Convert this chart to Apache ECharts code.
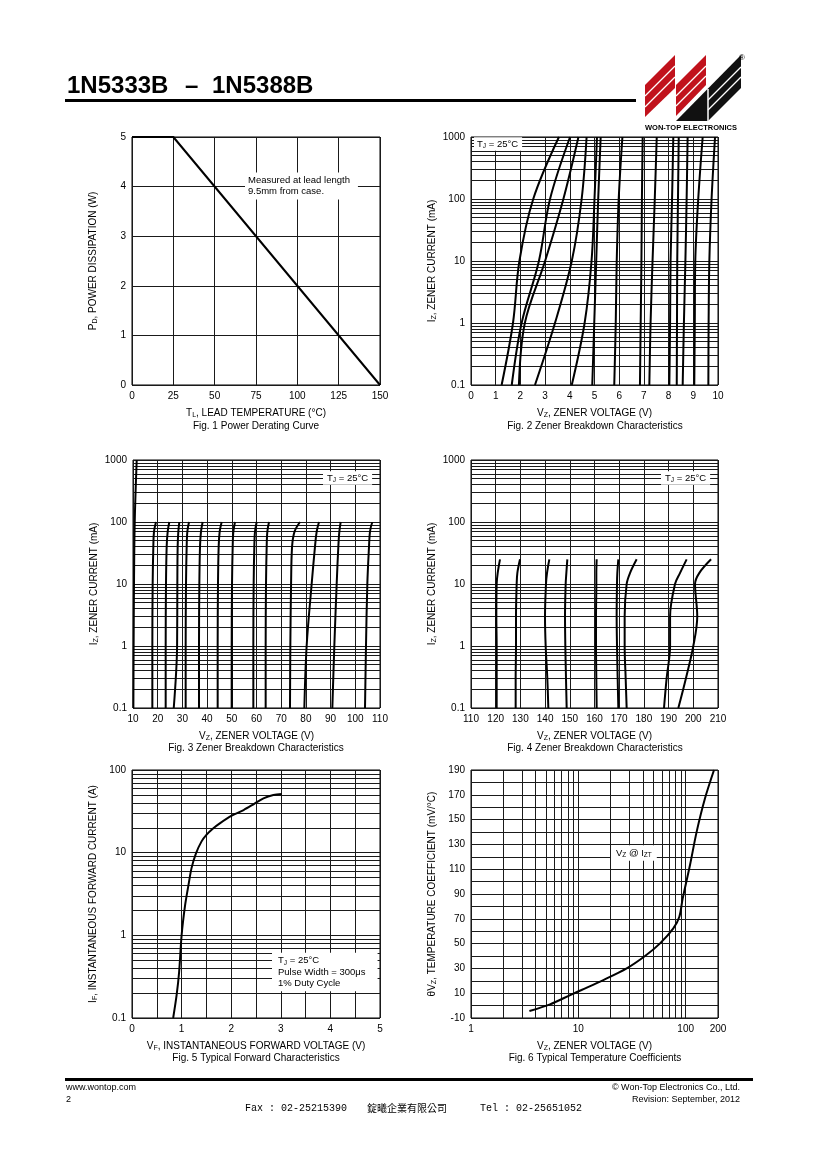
<!DOCTYPE html>
<html><head><meta charset="utf-8">
<script src="https://cdn.jsdelivr.net/npm/echarts@6/dist/echarts.min.js"></script>
<style>html,body{margin:0;padding:0;background:#fff}#c{width:820px;height:1160px}</style>
</head><body><div id="c"></div>
<script>
// ---------------- DATA ----------------
// Fig. 1 Power derating
const fig1Temp = [0, 25, 150];
const fig1Power = [5, 5, 0];

// Fig. 2 Zener breakdown (low voltage): currents (mA) and voltages of each curve at those currents
const fig2Current = [0.1, 1, 10, 100, 1000];
const fig2Voltage = [
  [1.24, 1.70, 1.96, 2.52, 3.56],
  [1.65, 2.05, 2.75, 3.20, 4.01],
  [1.94, 2.18, 3.00, 3.74, 4.35],
  [2.59, 3.40, 4.08, 4.48, 4.68],
  [4.08, 4.60, 4.88, 5.00, 5.10],
  [4.91, 4.99, 5.07, 5.15, 5.25],
  [5.80, 5.86, 5.90, 5.98, 6.13],
  [6.84, 6.87, 6.90, 6.92, 6.95],
  [7.22, 7.27, 7.35, 7.44, 7.52],
  [8.03, 8.06, 8.08, 8.14, 8.19],
  [8.33, 8.34, 8.35, 8.38, 8.41],
  [8.57, 8.62, 8.68, 8.73, 8.77],
  [9.04, 9.06, 9.08, 9.20, 9.38],
  [9.61, 9.62, 9.65, 9.74, 9.88]
];

// Fig. 3 Zener breakdown (10-110 V)
const fig3FirstCurrent = [0.1, 1, 10, 100, 1000];
const fig3FirstVoltage = [10.15, 10.25, 10.4, 10.7, 11.5];
const fig3Current = [0.1, 1, 10, 40, 70, 100];
const fig3Voltage = [
  [17.83, 17.83, 17.96, 18.23, 18.50, 19.31],
  [23.23, 23.23, 23.36, 23.63, 24.04, 24.71],
  [26.50, 27.85, 27.95, 28.08, 28.35, 28.76],
  [31.32, 31.32, 31.46, 31.73, 32.00, 32.67],
  [36.72, 36.72, 36.86, 37.13, 37.53, 38.20],
  [44.28, 44.28, 44.41, 44.68, 45.09, 45.90],
  [49.95, 49.95, 50.09, 50.36, 50.63, 51.30],
  [58.72, 58.72, 58.85, 59.12, 59.39, 60.07],
  [63.71, 63.71, 63.85, 64.12, 64.39, 65.06],
  [73.56, 73.70, 74.00, 74.40, 75.40, 77.60],
  [79.37, 80.30, 82.33, 83.68, 84.36, 85.30],
  [90.70, 91.51, 92.46, 93.13, 93.54, 94.08],
  [103.93, 104.33, 104.87, 105.55, 105.95, 106.90]
];

// Fig. 4 Zener breakdown (110-210 V)
const fig4Current = [0.1, 0.3, 1, 3, 10, 15, 25];
const fig4Voltage = [
  [120.39, 120.39, 120.39, 120.26, 120.39, 120.80, 121.74],
  [128.08, 128.08, 128.22, 128.22, 128.49, 128.76, 129.84],
  [141.31, 140.90, 140.23, 139.96, 140.36, 140.77, 141.71],
  [148.73, 148.46, 148.19, 148.06, 148.33, 148.60, 149.00],
  [160.88, 160.74, 160.61, 160.61, 160.74, 160.74, 160.88],
  [169.65, 169.38, 169.11, 168.97, 169.11, 169.24, 169.65],
  [173.02, 172.62, 172.21, 172.21, 173.02, 174.37, 177.07],
  [188.14, 189.20, 190.60, 190.60, 192.60, 194.60, 197.31],
  [193.94, 197.00, 200.00, 201.60, 200.70, 202.40, 207.20]
];

// Fig. 5 Forward characteristics
const fig5Voltage = [0.83, 0.90, 0.95, 1.00, 1.07, 1.14, 1.20, 1.29, 1.40, 1.50, 1.64, 1.77, 2.01, 2.25, 2.45, 2.65, 2.85, 3.02];
const fig5Current = [0.1, 0.19, 0.36, 1.0, 2.3, 4.1, 6.5, 9.8, 13.6, 16.4, 19.7, 22.6, 28, 32.8, 38.5, 45.4, 49.9, 51.3];

// Fig. 6 Temperature coefficients
const fig6Voltage = [3.5, 5.45, 8.4, 10.7, 17.1, 28.2, 41.8, 57.7, 76.7, 87.3, 93.8, 109.7, 126.6, 151.4, 183.6];
const fig6Coef = [-4.4, 1.0, 8.5, 12.6, 20.6, 30.0, 40.0, 50.2, 62.3, 71.7, 86.5, 113.4, 140.3, 167.2, 190];

// ---------------- STYLE / HELPERS ----------------
const FONT = '"Liberation Sans", Arial, Helvetica, sans-serif';
const GRIDC = '#1a1a1a';
const RICH = {
  n: {fontSize: 10, fontFamily: FONT, color: '#000', fill: '#000', lineHeight: 12},
  s: {fontSize: 7, fontFamily: FONT, color: '#000', fill: '#000', lineHeight: 7, verticalAlign: 'bottom'}
};
const RICHN = {
  n: {fontSize: 9.5, fontFamily: FONT, color: '#000', fill: '#000', lineHeight: 11.5},
  s: {fontSize: 6.5, fontFamily: FONT, color: '#000', fill: '#000', lineHeight: 6, verticalAlign: 'bottom'}
};
const zip = (xs, ys) => xs.map((x, i) => [x, ys[i]]);
const logMinor = (lo, hi) => {
  const out = [];
  for (let e = lo; e < hi; e++) for (let k = 2; k <= 9; k++) out.push(parseFloat((k * Math.pow(10, e)).toPrecision(3)));
  return out;
};
const fmt = v => String(parseFloat(Number(v).toPrecision(4)));

function xAx(gi, o) {
  return Object.assign({
    gridIndex: gi, type: 'value',
    axisLine: {show: false}, axisTick: {show: false},
    axisLabel: {color: '#000', fontSize: 10, fontFamily: FONT, margin: 6, formatter: fmt},
    splitLine: {show: true, lineStyle: {color: GRIDC, width: 1}},
    nameLocation: 'middle', nameGap: 22,
    nameTextStyle: {rich: RICH, fontSize: 10, fontFamily: FONT, color: '#000'}
  }, o);
}
function yAx(gi, o) {
  return Object.assign({
    gridIndex: gi, type: 'value',
    axisLine: {show: false}, axisTick: {show: false},
    axisLabel: {color: '#000', fontSize: 10, fontFamily: FONT, margin: 6, formatter: fmt},
    splitLine: {show: true, lineStyle: {color: GRIDC, width: 1}},
    nameLocation: 'middle', nameGap: 33,
    nameTextStyle: {rich: RICH, fontSize: 10, fontFamily: FONT, color: '#000'}
  }, o);
}
function markLines(key, vals) {
  return {
    silent: true, symbol: ['none', 'none'], label: {show: false},
    lineStyle: {color: GRIDC, width: 1, type: 'solid'},
    emphasis: {disabled: true}, animation: false,
    data: vals.map(v => ({[key]: v}))
  };
}
function curve(gi, data, extra) {
  return Object.assign({
    type: 'line', xAxisIndex: gi, yAxisIndex: gi, data: data,
    symbol: 'none', smooth: 0.35, silent: true,
    lineStyle: {color: '#000', width: 2}, z: 5
  }, extra || {});
}
function note(x, y, text, pad) {
  return {type: 'text', x: x, y: y, z: 50, silent: true,
    style: {text: text, rich: RICHN, fontSize: 9.5, fontFamily: FONT, fill: '#000', lineHeight: 11.5,
      align: 'left', verticalAlign: 'middle', backgroundColor: '#fff', padding: pad || [2, 4, 2, 3]}};
}
function caption(x, y, text) {
  return {type: 'text', x: x, y: y, silent: true,
    style: {text: text, fontSize: 10, fontFamily: FONT, fill: '#000', align: 'center', verticalAlign: 'middle'}};
}
function plain(x, y, text, size, align, extra) {
  return {type: 'text', x: x, y: y, silent: true,
    style: Object.assign({text: text, fontSize: size, fontFamily: FONT, fill: '#000', align: align || 'left', verticalAlign: 'middle'}, extra || {})};
}

// ---------------- SERIES ----------------
const series = [];
series.push(curve(0, zip(fig1Temp, fig1Power), {smooth: false}));

fig2Voltage.forEach((vs, i) => {
  const s = curve(1, zip(vs, fig2Current));
  if (i === 0) s.markLine = markLines('yAxis', logMinor(-1, 3));
  series.push(s);
});

const f3first = curve(2, zip(fig3FirstVoltage, fig3FirstCurrent));
f3first.markLine = markLines('yAxis', logMinor(-1, 3));
series.push(f3first);
fig3Voltage.forEach(vs => series.push(curve(2, zip(vs, fig3Current))));

fig4Voltage.forEach((vs, i) => {
  const s = curve(3, zip(vs, fig4Current));
  if (i === 0) s.markLine = markLines('yAxis', logMinor(-1, 3));
  series.push(s);
});

const f5 = curve(4, zip(fig5Voltage, fig5Current), {smooth: 0.3});
f5.markLine = markLines('yAxis', logMinor(-1, 2));
series.push(f5);

const f6 = curve(5, zip(fig6Voltage, fig6Coef), {smooth: 0.3});
f6.markLine = markLines('xAxis', logMinor(0, 2));
series.push(f6);

// ---------------- GRAPHICS ----------------
const RED = '#c1121c';
const graphic = [
  // header
  plain(67, 86.5, '1N5333B', 24, 'left', {fontWeight: 'bold'}),
  plain(185, 86.5, '\u2013', 24, 'left', {fontWeight: 'bold'}),
  plain(212, 86.5, '1N5388B', 24, 'left', {fontWeight: 'bold'}),
  {type: 'rect', shape: {x: 65, y: 99, width: 571, height: 3}, style: {fill: '#000'}, silent: true},
  // logo
  {type: 'polygon', shape: {points: [[645, 85], [675, 55], [675, 88], [645, 117]]}, style: {fill: RED}, silent: true},
  {type: 'polygon', shape: {points: [[676, 85], [706, 55], [706, 85], [676, 116]]}, style: {fill: RED}, silent: true},
  {type: 'polygon', shape: {points: [[676, 121], [741, 55], [741, 88], [708, 121]]}, style: {fill: '#111'}, silent: true},
  {type: 'line', shape: {x1: 645, y1: 96, x2: 675, y2: 66}, style: {stroke: '#fff', lineWidth: 1.3}, silent: true},
  {type: 'line', shape: {x1: 645, y1: 107, x2: 675, y2: 77}, style: {stroke: '#fff', lineWidth: 1.3}, silent: true},
  {type: 'line', shape: {x1: 676, y1: 96, x2: 706, y2: 66}, style: {stroke: '#fff', lineWidth: 1.3}, silent: true},
  {type: 'line', shape: {x1: 676, y1: 106, x2: 706, y2: 76}, style: {stroke: '#fff', lineWidth: 1.3}, silent: true},
  {type: 'line', shape: {x1: 708, y1: 89, x2: 708, y2: 121}, style: {stroke: '#fff', lineWidth: 1.5}, silent: true},
  {type: 'line', shape: {x1: 708, y1: 100, x2: 741, y2: 67}, style: {stroke: '#fff', lineWidth: 1.3}, silent: true},
  {type: 'line', shape: {x1: 708, y1: 110, x2: 741, y2: 77}, style: {stroke: '#fff', lineWidth: 1.3}, silent: true},
  plain(691, 128, 'WON-TOP ELECTRONICS', 7.5, 'center', {fontWeight: 'bold'}),
  plain(742, 58, '\u00AE', 8, 'center'),
  // captions
  caption(256, 426, 'Fig. 1 Power Derating Curve'),
  caption(595, 426, 'Fig. 2 Zener Breakdown Characteristics'),
  caption(256, 748, 'Fig. 3 Zener Breakdown Characteristics'),
  caption(595, 748, 'Fig. 4 Zener Breakdown Characteristics'),
  caption(256, 1058, 'Fig. 5 Typical Forward Characteristics'),
  caption(595, 1058, 'Fig. 6 Typical Temperature Coefficients'),
  // annotations
  note(245, 186, 'Measured at lead length\n9.5mm from case.', [2, 8, 2, 3]),
  note(474, 144, '{n|T}{s|J}{n| = 25\u00B0C}', [1, 4, 1, 3]),
  note(323, 478, '{n|T}{s|J}{n| = 25\u00B0C}', [1, 4, 1, 4]),
  note(661, 478, '{n|T}{s|J}{n| = 25\u00B0C}', [1, 4, 1, 4]),
  note(272, 972, '{n|T}{s|J}{n| = 25\u00B0C}\n{n|Pulse Width = 300\u03BCs}\n{n|1% Duty Cycle}', [2, 12, 2, 6]),
  note(611, 853, '{n|V}{s|Z}{n| @ I}{s|ZT}', [2, 5, 2, 5]),
  // footer
  {type: 'rect', shape: {x: 65, y: 1078, width: 688, height: 3}, style: {fill: '#000'}, silent: true},
  plain(66, 1088, 'www.wontop.com', 9, 'left'),
  plain(66, 1100, '2', 9, 'left'),
  plain(740, 1088, '\u00A9 Won-Top Electronics Co., Ltd.', 9, 'right'),
  plain(740, 1100, 'Revision: September, 2012', 9, 'right'),
  plain(245, 1108, 'Fax : 02-25215390', 10, 'left', {fontFamily: '"Liberation Mono", "DejaVu Sans Mono", monospace'}),
  plain(367, 1108, '\u9320\u66E6\u4F01\u696D\u6709\u9650\u516C\u53F8', 10, 'left', {fontFamily: '"Noto Sans CJK TC", "Noto Sans CJK SC", sans-serif'}),
  plain(480, 1108, 'Tel : 02-25651052', 10, 'left', {fontFamily: '"Liberation Mono", "DejaVu Sans Mono", monospace'})
];

// ---------------- OPTION ----------------
const grids = [
  {left: 132, top: 137, width: 248, height: 248},
  {left: 471, top: 137, width: 247, height: 248},
  {left: 133, top: 460, width: 247, height: 248},
  {left: 471, top: 460, width: 247, height: 248},
  {left: 132, top: 770, width: 248, height: 248},
  {left: 471, top: 770, width: 247, height: 248}
].map(g => Object.assign(g, {show: true, borderColor: '#000', borderWidth: 1, backgroundColor: 'transparent', containLabel: false, outerBoundsMode: 'none'}));

const logY = (gi, max, name) => yAx(gi, {type: 'log', logBase: 10, min: 0.1, max: max, name: name});

const option = {
  animation: false,
  backgroundColor: '#fff',
  textStyle: {fontFamily: FONT},
  grid: grids,
  xAxis: [
    xAx(0, {min: 0, max: 150, interval: 25, name: '{n|T}{s|L}{n|, LEAD TEMPERATURE (\u00B0C)}'}),
    xAx(1, {min: 0, max: 10, interval: 1, name: '{n|V}{s|Z}{n|, ZENER VOLTAGE (V)}'}),
    xAx(2, {min: 10, max: 110, interval: 10, name: '{n|V}{s|Z}{n|, ZENER VOLTAGE (V)}'}),
    xAx(3, {min: 110, max: 210, interval: 10, name: '{n|V}{s|Z}{n|, ZENER VOLTAGE (V)}'}),
    xAx(4, {min: 0, max: 5, interval: 1, name: '{n|V}{s|F}{n|, INSTANTANEOUS FORWARD VOLTAGE (V)}',
      minorTick: {show: false, splitNumber: 2}, minorSplitLine: {show: true, lineStyle: {color: GRIDC, width: 1}}}),
    xAx(5, {type: 'log', logBase: 10, min: 1, max: 200, name: '{n|V}{s|Z}{n|, ZENER VOLTAGE (V)}'})
  ],
  yAxis: [
    yAx(0, {min: 0, max: 5, interval: 1, name: '{n|P}{s|D}{n|, POWER DISSIPATION (W)}'}),
    logY(1, 1000, '{n|I}{s|Z}{n|, ZENER CURRENT (mA)}'),
    logY(2, 1000, '{n|I}{s|Z}{n|, ZENER CURRENT (mA)}'),
    logY(3, 1000, '{n|I}{s|Z}{n|, ZENER CURRENT (mA)}'),
    logY(4, 100, '{n|I}{s|F}{n|, INSTANTANEOUS FORWARD CURRENT (A)}'),
    yAx(5, {min: -10, max: 190, interval: 20, name: '{n|\u03B8V}{s|Z}{n|, TEMPERATURE COEFFICIENT (mV/\u00B0C)}',
      minorTick: {show: false, splitNumber: 2}, minorSplitLine: {show: true, lineStyle: {color: GRIDC, width: 1}}})
  ],
  series: series,
  graphic: graphic
};

const chart = echarts.init(document.getElementById('c'), null, {renderer: 'canvas', width: 820, height: 1160});
chart.setOption(option);
</script>
</body></html>
